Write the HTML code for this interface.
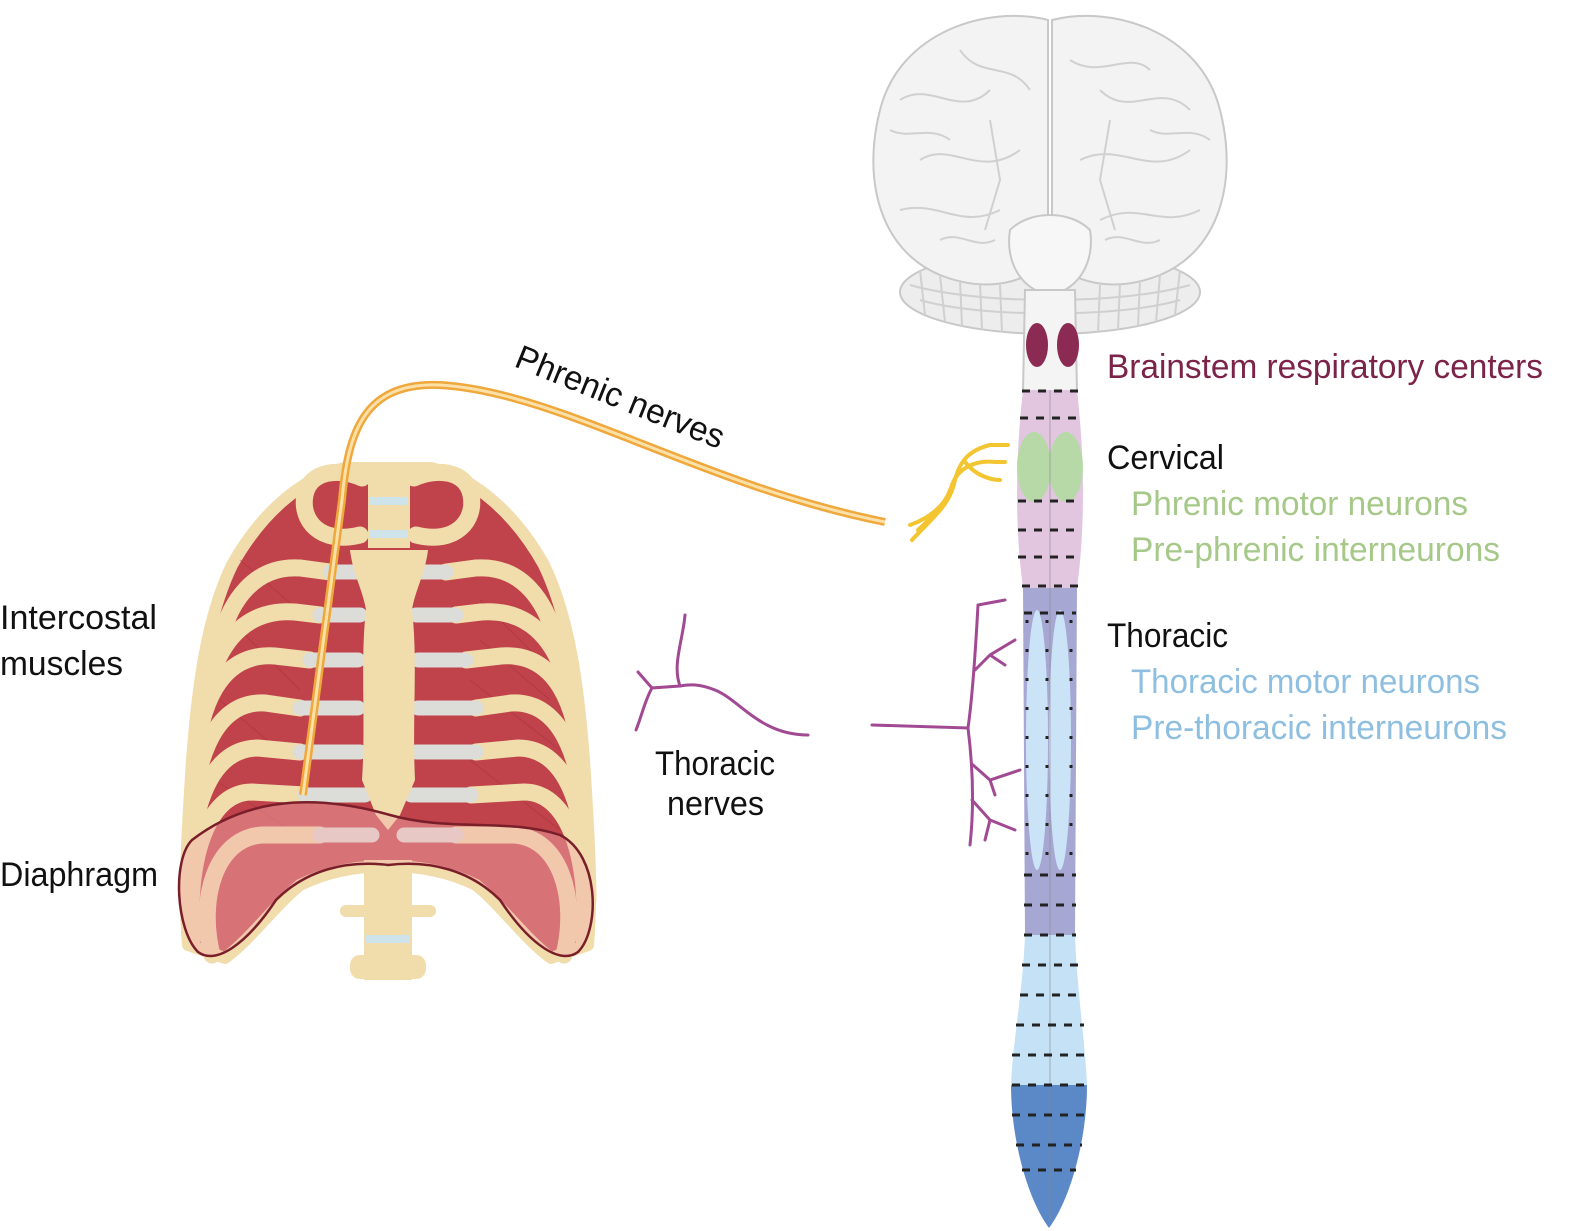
<!DOCTYPE html>
<html><head><meta charset="utf-8"><style>
html,body{margin:0;padding:0;background:#fff;}
svg{display:block;}
text{font-family:"Liberation Sans",sans-serif;font-size:34px;}
</style></head><body>
<svg width="1570" height="1231" viewBox="0 0 1570 1231" xmlns="http://www.w3.org/2000/svg">
<!-- BRAIN -->
<g stroke="#c8c8c8" stroke-width="2" fill="#f3f3f3">
  <ellipse cx="1050" cy="292" rx="150" ry="42" fill="#ededed"/>
  <path d="M1048,20 C990,5 900,30 880,110 C862,180 880,250 940,275 C990,295 1030,280 1048,260 Z"/>
  <path d="M1052,20 C1110,5 1200,30 1220,110 C1238,180 1220,250 1160,275 C1110,295 1070,280 1052,260 Z"/>
  <path d="M1010,230 C1030,210 1070,210 1090,230 C1095,260 1080,290 1050,295 C1020,290 1005,260 1010,230 Z" fill="#f7f7f7"/>
</g>
<g stroke="#d0d0d0" stroke-width="2" fill="none">
  <path d="M900,100 C930,80 960,120 990,90 M920,160 C950,140 980,180 1020,150 M900,210 C940,200 960,230 1000,210 M960,50 C980,80 1010,60 1030,90 M1100,90 C1130,120 1160,80 1190,110 M1080,160 C1120,140 1150,180 1190,150 M1100,220 C1140,200 1160,230 1200,210 M1070,60 C1100,80 1130,50 1150,70"/>
  <path d="M890,130 C910,140 930,125 950,140 M990,120 L1000,180 L985,230 M1110,120 L1100,180 L1115,230 M1150,130 C1170,140 1190,125 1210,140 M940,240 C960,230 975,250 995,240 M1105,240 C1125,230 1140,250 1160,240"/>
  <path d="M920,300 C980,318 1120,318 1180,300 M910,285 C980,305 1120,305 1190,285"/>
  <path d="M920,270 L925,315 M940,275 L945,322 M960,280 L962,326 M980,283 L982,330 M1000,285 L1002,332 M1100,285 L1098,332 M1120,283 L1118,330 M1140,280 L1138,326 M1160,275 L1156,322 M1180,270 L1175,315"/>
</g>
<!-- brainstem -->
<path d="M1025,290 L1075,290 L1077,392 L1023,392 Z" fill="#f4f4f4" stroke="#c8c8c8" stroke-width="2"/>
<ellipse cx="1037" cy="345" rx="11" ry="22" fill="#8b2a52"/>
<ellipse cx="1068" cy="345" rx="11" ry="22" fill="#8b2a52"/>
<!-- SPINAL CORD -->
<path d="M1023,390 L1077,390 C1085,460 1085,530 1077,588 L1023,588 C1015,530 1015,460 1023,390 Z" fill="#e2c6e0"/>
<path d="M1023,588 L1077,588 L1075,935 L1025,935 Z" fill="#a7a7d4"/>
<ellipse cx="1037" cy="740" rx="11" ry="130" fill="#cbe3f6"/>
<ellipse cx="1060" cy="740" rx="11" ry="130" fill="#cbe3f6"/>
<ellipse cx="1034" cy="467" rx="17" ry="35" fill="#b7d9a8"/>
<ellipse cx="1066" cy="467" rx="17" ry="35" fill="#b7d9a8"/>
<path d="M1025,935 L1075,935 C1077,990 1085,1040 1087,1085 L1011,1085 C1013,1040 1023,990 1025,935 Z" fill="#c4e1f6"/>
<path d="M1011,1085 L1087,1085 C1087,1140 1070,1200 1049,1228 C1028,1200 1011,1140 1011,1085 Z" fill="#5b88c6"/>
<line x1="1050" y1="390" x2="1050" y2="1220" stroke="#888" stroke-width="1" opacity="0.6"/>
<g stroke="#222" stroke-width="3" stroke-dasharray="8,8">
  <line x1="1022" y1="391" x2="1078" y2="391"/><line x1="1020" y1="418" x2="1080" y2="418"/>
  <line x1="1018" y1="501" x2="1082" y2="501"/><line x1="1018" y1="530" x2="1082" y2="530"/>
  <line x1="1018" y1="557" x2="1082" y2="557"/><line x1="1022" y1="586" x2="1078" y2="586"/>
  <line x1="1024" y1="613" x2="1076" y2="613"/>
  <line x1="1024" y1="875" x2="1076" y2="875"/><line x1="1024" y1="905" x2="1076" y2="905"/>
  <line x1="1024" y1="935" x2="1076" y2="935"/><line x1="1022" y1="965" x2="1078" y2="965"/>
  <line x1="1020" y1="995" x2="1080" y2="995"/><line x1="1016" y1="1025" x2="1084" y2="1025"/>
  <line x1="1012" y1="1055" x2="1086" y2="1055"/><line x1="1012" y1="1085" x2="1086" y2="1085"/>
  <line x1="1012" y1="1115" x2="1086" y2="1115"/><line x1="1016" y1="1145" x2="1082" y2="1145"/>
  <line x1="1022" y1="1170" x2="1076" y2="1170"/>
</g>
<g stroke="#222" stroke-width="3" stroke-dasharray="3,26">
  <line x1="1027" y1="620" x2="1027" y2="870"/><line x1="1047" y1="620" x2="1047" y2="870"/><line x1="1071" y1="620" x2="1071" y2="870"/>
</g>
<!-- yellow phrenic branches -->
<g stroke="#f2c531" stroke-width="4" fill="none" stroke-linecap="round">
  <path d="M912,540 C935,515 950,505 955,480 C960,460 970,450 990,445 L1008,445"/>
  <path d="M918,530 C940,510 948,500 952,485 C958,468 975,460 995,462 L1005,462"/>
  <path d="M910,525 C930,518 945,505 950,490 M965,462 C975,475 990,480 1000,480"/>
</g>
<!-- purple thoracic nerves -->
<g stroke="#a14a93" stroke-width="3" fill="none" stroke-linecap="round">
  <path d="M872,725 L968,728 C972,700 975,660 978,605 M978,605 L1005,600"/>
  <path d="M975,670 L990,655 L1015,640 M990,655 L1005,665"/>
  <path d="M968,728 C972,760 975,800 970,845 M973,765 L990,780 L1020,770 M990,780 L995,795 M972,800 L990,820 L1015,830 M990,820 L985,840"/>
  <path d="M808,735 C760,735 740,700 715,690 C700,684 690,684 680,686 M680,686 C672,665 683,640 685,615 M680,686 L652,688 C645,700 642,715 636,730 M652,688 L638,672"/>
</g>
<!-- RIBCAGE -->
<path d="M345,468 C300,478 260,515 232,565 C208,615 198,680 192,760 C186,850 184,900 188,945 L225,958 C250,940 275,905 300,885 C330,870 360,866 388,866 C416,866 446,870 476,885 C501,905 526,940 551,958 L588,945 C592,900 590,850 584,760 C578,680 568,615 544,565 C516,515 476,478 431,468 Z" fill="#c0424a" stroke="#f1dcac" stroke-width="12" stroke-linejoin="round"/>
<g stroke="#a3313a" stroke-width="1" opacity="0.45">
  <path d="M230,620 L300,690 M220,700 L290,760 M240,560 L310,620 M480,600 L540,660 M470,680 L560,750 M470,760 L560,830 M215,780 L290,830 M480,640 L550,700"/>
</g>
<g id="ribsL" fill="none" stroke-linecap="round">
  <g stroke="#f1dcac" stroke-width="17">
    <path d="M360,535 C320,545 300,520 305,495 C310,470 340,468 362,478"/>
    <path d="M330,572 L300,568 C255,565 228,600 218,650"/>
    <path d="M320,615 L295,612 C240,608 210,650 202,720"/>
    <path d="M310,660 L275,656 C220,652 197,705 194,780"/>
    <path d="M300,708 L265,703 C212,700 192,765 190,845"/>
    <path d="M300,752 L258,748 C207,748 188,815 188,900"/>
    <path d="M305,795 L252,792 C205,792 186,865 192,940"/>
    <path d="M320,835 L262,835 C215,838 198,900 212,955"/>
  </g>
  <g stroke="#dcdcd8" stroke-width="15">
    <path d="M360,572 L330,572"/><path d="M360,615 L320,615"/><path d="M358,660 L310,660"/>
    <path d="M358,708 L300,708"/><path d="M360,752 L300,752"/><path d="M365,795 L305,795"/><path d="M372,835 L320,835"/>
  </g>
</g>
<use href="#ribsL" transform="translate(776,0) scale(-1,1)"/>
<!-- spine top & sternum -->
<rect x="368" y="468" width="42" height="80" fill="#f1dcac"/>
<rect x="370" y="497" width="38" height="8" fill="#cfe3ea"/>
<rect x="370" y="530" width="38" height="8" fill="#cfe3ea"/>
<path d="M350,550 L428,550 C425,575 415,590 412,610 C418,660 412,720 415,780 L400,815 L388,830 L376,815 L362,780 C366,720 360,660 366,610 C363,590 353,575 350,550 Z" fill="#f1dcac"/>
<!-- lower spine -->
<rect x="364" y="860" width="48" height="120" fill="#f1dcac"/>
<rect x="340" y="905" width="96" height="12" rx="6" fill="#f1dcac"/>
<rect x="350" y="955" width="76" height="24" rx="10" fill="#f1dcac"/>
<rect x="366" y="935" width="44" height="8" fill="#cfe3ea"/>
<!-- diaphragm -->
<path d="M192,840 C250,795 320,795 390,815 C450,832 510,818 560,835 C600,855 600,930 578,952 C560,965 530,945 500,900 C470,870 430,860 388,865 C346,860 306,870 276,900 C246,945 216,965 198,952 C176,930 172,860 192,840 Z" fill="rgba(245,175,175,0.45)" stroke="#7a1f2a" stroke-width="2.5"/>
<!-- phrenic nerve -->
<path d="M885,522 C700,485 560,392 440,385 C365,382 348,430 342,500 L303,795" fill="none" stroke="#f0a83c" stroke-width="8"/>
<path d="M885,522 C700,485 560,392 440,385 C365,382 348,430 342,500 L303,795" fill="none" stroke="#fbe0a8" stroke-width="3"/>
<!-- LABELS -->
<text x="1107" y="378" fill="#7b2348" textLength="436" lengthAdjust="spacingAndGlyphs">Brainstem respiratory centers</text>
<text x="1107" y="469" fill="#111" textLength="117" lengthAdjust="spacingAndGlyphs">Cervical</text>
<text x="1131" y="515" fill="#a6c98a" textLength="337" lengthAdjust="spacingAndGlyphs">Phrenic motor neurons</text>
<text x="1131" y="561" fill="#a6c98a" textLength="369" lengthAdjust="spacingAndGlyphs">Pre-phrenic interneurons</text>
<text x="1107" y="647" fill="#111" textLength="121" lengthAdjust="spacingAndGlyphs">Thoracic</text>
<text x="1131" y="693" fill="#8fbfe0" textLength="349" lengthAdjust="spacingAndGlyphs">Thoracic motor neurons</text>
<text x="1131" y="739" fill="#8fbfe0" textLength="376" lengthAdjust="spacingAndGlyphs">Pre-thoracic interneurons</text>
<text x="0" y="629" fill="#111" textLength="157" lengthAdjust="spacingAndGlyphs">Intercostal</text>
<text x="0" y="675" fill="#111" textLength="123" lengthAdjust="spacingAndGlyphs">muscles</text>
<text x="0" y="886" fill="#111" textLength="158" lengthAdjust="spacingAndGlyphs">Diaphragm</text>
<text x="655" y="775" fill="#111" textLength="120" lengthAdjust="spacingAndGlyphs">Thoracic</text>
<text x="667" y="815" fill="#111" textLength="97" lengthAdjust="spacingAndGlyphs">nerves</text>
<text x="0" y="0" fill="#111" textLength="222" lengthAdjust="spacingAndGlyphs" transform="translate(513,366) rotate(22)">Phrenic nerves</text>
</svg>
</body></html>
